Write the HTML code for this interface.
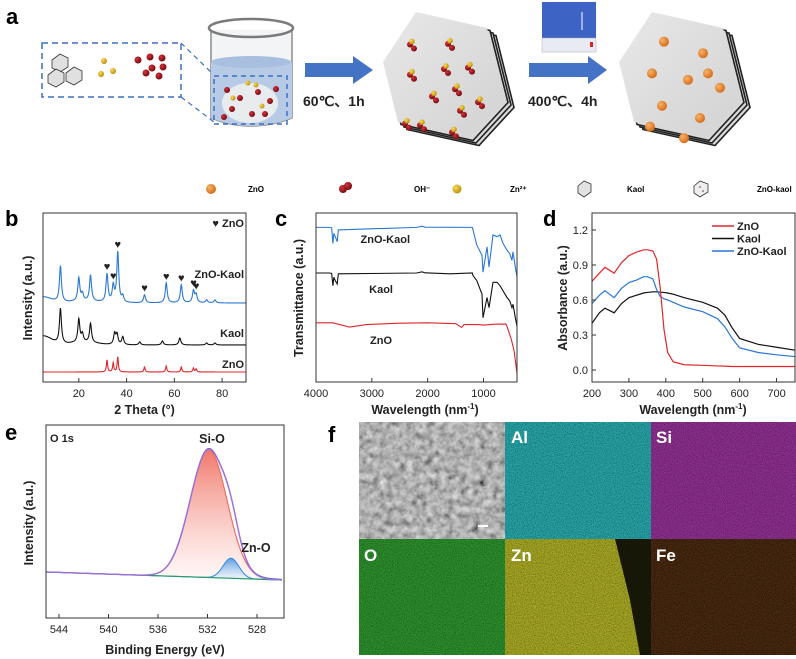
<!DOCTYPE html>
<html><head><meta charset="utf-8">
<style>
html,body{margin:0;padding:0;background:#fff;}
svg{display:block;font-family:"Liberation Sans",sans-serif;}
.pl{font-weight:bold;font-size:22px;}
.tk{font-size:11px;fill:#222;}
.tt{font-size:12.5px;font-weight:bold;fill:#222;}
.sl{font-size:11px;font-weight:bold;fill:#222;}
</style></head>
<body>
<svg id="fig" width="796" height="659" viewBox="0 0 796 659">
<defs>
<radialGradient id="gOr" cx="0.35" cy="0.35" r="0.7"><stop offset="0" stop-color="#f7b26a"/><stop offset="1" stop-color="#d46a16"/></radialGradient>
<radialGradient id="gRd" cx="0.35" cy="0.35" r="0.7"><stop offset="0" stop-color="#d8303a"/><stop offset="1" stop-color="#6e0a0e"/></radialGradient>
<radialGradient id="gYl" cx="0.35" cy="0.35" r="0.7"><stop offset="0" stop-color="#f8dd55"/><stop offset="1" stop-color="#b88a0a"/></radialGradient>
<linearGradient id="gSi" x1="0" y1="0" x2="0" y2="1"><stop offset="0" stop-color="#f0786a"/><stop offset="1" stop-color="#fff4f2" stop-opacity="0.6"/></linearGradient>
<linearGradient id="gZn" x1="0" y1="0" x2="0" y2="1"><stop offset="0" stop-color="#5a9ee0"/><stop offset="1" stop-color="#eef6ff" stop-opacity="0.6"/></linearGradient>
<linearGradient id="gHex" x1="0" y1="0" x2="1" y2="1"><stop offset="0" stop-color="#e8e8e8"/><stop offset="1" stop-color="#d2d2d2"/></linearGradient>
<filter id="noise" x="0" y="0" width="100%" height="100%"><feTurbulence type="fractalNoise" baseFrequency="0.9" numOctaves="2" seed="3"/><feColorMatrix type="matrix" values="0 0 0 0 0  0 0 0 0 0  0 0 0 0 0  0 0 0 -1.6 1.0"/></filter>
<filter id="semf" x="0" y="0" width="100%" height="100%"><feTurbulence type="fractalNoise" baseFrequency="0.15" numOctaves="3" seed="7"/><feColorMatrix type="matrix" values="0.45 0.45 0.45 0 -0.25  0.45 0.45 0.45 0 -0.25  0.45 0.45 0.45 0 -0.25  0 0 0 0 1"/></filter>
</defs>

<!-- Panel a -->
<g>
<text class="pl" x="6" y="24">a</text>
<rect x="42" y="43" width="139" height="54" fill="none" stroke="#3b6fc0" stroke-width="1.5" stroke-dasharray="6,4"/>
<line x1="181" y1="43" x2="214" y2="75" stroke="#3b6fc0" stroke-width="1.2" stroke-dasharray="5,4"/>
<line x1="181" y1="97" x2="214" y2="122" stroke="#3b6fc0" stroke-width="1.2" stroke-dasharray="5,4"/>
<g>
<polygon points="52,60 60,54 68,58 68,67 60,72 52,68" fill="#e0e0e0" stroke="#333" stroke-width="0.8"/>
<polygon points="48,75 56,69 64,73 64,82 56,87 48,83" fill="#e0e0e0" stroke="#333" stroke-width="0.8"/>
<polygon points="66,73 74,67 82,71 82,80 74,85 66,81" fill="#e0e0e0" stroke="#333" stroke-width="0.8"/>
</g>
<g>
<circle cx="104" cy="61" r="3" fill="url(#gYl)"/><circle cx="101" cy="74" r="3" fill="url(#gYl)"/><circle cx="113" cy="71" r="3" fill="url(#gYl)"/>
</g>
<g>
<circle cx="138" cy="60" r="3.5" fill="url(#gRd)"/><circle cx="150" cy="57" r="3.5" fill="url(#gRd)"/><circle cx="162" cy="58" r="3.5" fill="url(#gRd)"/><circle cx="152" cy="68" r="3.5" fill="url(#gRd)"/><circle cx="163" cy="67" r="3.5" fill="url(#gRd)"/><circle cx="146" cy="73" r="3.5" fill="url(#gRd)"/><circle cx="159" cy="76" r="3.5" fill="url(#gRd)"/>
</g>
<g>
<path d="M211,30 L211,118 Q251,134 292,118 L292,30" fill="#f2f4f6" stroke="#8c8c8c" stroke-width="1.5"/>
<path d="M211,62 Q251,55 292,62 L292,118 Q251,134 211,118 Z" fill="#b8cbe6"/>
<ellipse cx="251" cy="62" rx="40" ry="6" fill="#a9bfe0"/>
<ellipse cx="251" cy="28" rx="42" ry="9" fill="none" stroke="#7a7a7a" stroke-width="2.5"/>
<rect x="214" y="76" width="73" height="48" fill="none" stroke="#3b6fc0" stroke-width="1.5" stroke-dasharray="5,4"/>
<ellipse cx="250" cy="103" rx="28" ry="20" fill="#e9ecef"/>
<circle cx="227" cy="90" r="3" fill="url(#gRd)"/><circle cx="240" cy="98" r="3" fill="url(#gRd)"/><circle cx="232" cy="109" r="3" fill="url(#gRd)"/><circle cx="258" cy="92" r="3" fill="url(#gRd)"/><circle cx="270" cy="101" r="3" fill="url(#gRd)"/><circle cx="276" cy="89" r="3" fill="url(#gRd)"/><circle cx="252" cy="114" r="3" fill="url(#gRd)"/><circle cx="265" cy="114" r="3" fill="url(#gRd)"/><circle cx="224" cy="117" r="3" fill="url(#gRd)"/>
<circle cx="248" cy="83" r="2.5" fill="url(#gYl)"/><circle cx="256" cy="85" r="2.5" fill="url(#gYl)"/><circle cx="262" cy="106" r="2.5" fill="url(#gYl)"/><circle cx="233" cy="98" r="2.5" fill="url(#gYl)"/>
</g>
<polygon points="305,63 353,63 353,56 373,70 353,84 353,77 305,77" fill="#4472c4"/>
<text x="303" y="106" font-size="14" font-weight="bold" fill="#222">60℃、1h</text>
<polygon points="529,63 588,63 588,56 607,70 588,84 588,77 529,77" fill="#4472c4"/>
<text x="528" y="106" font-size="14" font-weight="bold" fill="#222">400℃、4h</text>
<g>
<rect x="542" y="2" width="54" height="36" fill="#3d63c4"/>
<rect x="542" y="38" width="54" height="14" fill="#e8ecf2" stroke="#aab" stroke-width="0.5"/>
<line x1="582" y1="12" x2="582" y2="30" stroke="#fff" stroke-width="1"/>
<rect x="590" y="42" width="3" height="5" fill="#d22"/>
</g>
<g id="hex1"></g>
<g id="hex2"></g>
<g>
<circle cx="211" cy="189" r="5" fill="url(#gOr)"/><text x="248" y="192" font-size="8" font-weight="bold">ZnO</text>
<circle cx="343" cy="189" r="4" fill="url(#gRd)"/><circle cx="348" cy="186" r="4" fill="url(#gRd)"/><text x="414" y="192" font-size="8" font-weight="bold">OH⁻</text>
<circle cx="457" cy="189" r="4.5" fill="url(#gYl)"/><text x="510" y="192" font-size="8" font-weight="bold">Zn²⁺</text>
<polygon points="578,186 584,181 591,184 591,192 584,197 578,193" fill="#e2e2e2" stroke="#333" stroke-width="0.8"/><text x="627" y="192" font-size="8" font-weight="bold">Kaol</text>
<polygon points="694,186 700,181 708,184 708,192 700,197 694,193" fill="#eee" stroke="#333" stroke-width="0.8"/><circle cx="700" cy="187" r="0.8" fill="#633"/><circle cx="703" cy="191" r="0.8" fill="#633"/><text x="757" y="192" font-size="8" font-weight="bold">ZnO-kaol</text>
</g>
</g>

<text class="pl" x="5" y="226">b</text>
<text class="pl" x="275" y="226">c</text>
<text class="pl" x="543" y="226">d</text>
<text class="pl" x="5" y="440">e</text>
<text class="pl" x="328" y="442">f</text>

<g id="pb"></g>
<g id="pc"></g>
<g id="pd"></g>
<g id="pe"></g>

<g>
<g>
<rect x="359" y="422" width="146" height="117" fill="#777"/>
<rect x="359" y="422" width="146" height="117" filter="url(#semf)"/>
<rect x="478" y="525" width="10" height="2" fill="#fff"/>
</g>
<g><rect x="505" y="422" width="146" height="117" fill="#27a5a8"/><rect x="505" y="422" width="146" height="117" filter="url(#noise)" opacity="0.5"/><text x="511" y="443" font-size="17" font-weight="bold" fill="#fff">Al</text></g>
<g><rect x="651" y="422" width="145" height="117" fill="#8e2f90"/><rect x="651" y="422" width="145" height="117" filter="url(#noise)" opacity="0.5"/><text x="656" y="443" font-size="17" font-weight="bold" fill="#fff">Si</text></g>
<g><rect x="359" y="539" width="146" height="116" fill="#2c8f2c"/><rect x="359" y="539" width="146" height="116" filter="url(#noise)" opacity="0.5"/><text x="364" y="561" font-size="17" font-weight="bold" fill="#fff">O</text></g>
<g><rect x="505" y="539" width="146" height="116" fill="#a7a724"/><polygon points="615,539 651,539 651,655 640,655 630,600" fill="#1a1a08"/><rect x="505" y="539" width="146" height="116" filter="url(#noise)" opacity="0.5"/><text x="511" y="561" font-size="17" font-weight="bold" fill="#fff">Zn</text></g>
<g><rect x="651" y="539" width="145" height="116" fill="#4a2a10"/><rect x="651" y="539" width="145" height="116" filter="url(#noise)" opacity="0.75"/><text x="656" y="561" font-size="17" font-weight="bold" fill="#fff">Fe</text></g>
</g>
</svg>

<script>
// ---------- data: panel b (XRD) ----------
const xrdTicks = [20, 40, 60, 80];
const znoPeakPos = [31.8, 34.4, 36.3, 47.5, 56.6, 62.9, 68.0, 69.1];
const znoPeakH   = [12, 9, 15, 5, 6, 5, 4, 3];
const kaolPeakPos = [12.3, 20.0, 21.5, 24.9, 35.0, 36.0, 38.4, 45.5, 55.0, 62.3, 73.5, 77.0];
const kaolPeakH   = [35, 23, 8, 19, 11, 10, 8, 3, 4, 7, 2, 2];
const zkPeakPos = [12.3, 20.0, 21.5, 24.9, 31.8, 34.4, 36.3, 38.4, 47.5, 56.6, 62.9, 68.0, 69.1, 73.5, 77.0];
const zkPeakH   = [36, 23, 7, 26, 28, 16, 50, 6, 8, 20, 18, 12, 8, 3, 3];
const heartPos = [31.8, 34.4, 36.3, 47.5, 56.6, 62.9, 68.0, 69.1];
// ---------- data: panel c (FTIR) ----------
const cTicks = [4000, 3000, 2000, 1000];
const zkWn = [4000,3760,3720,3697,3680,3655,3620,3600,2200,2100,2050,1200,1188,1120,1027,1009,937,901,830,758,704,651,579,530,490,472,430,400];
const zkT  = [91.5,91.5,91.3,82,88,86,83,90,91.5,92.2,91.6,91.5,90,81,75,65,80,68,87,86,87,82,78,76,72,77,68,62];
const kaWn = [4000,3760,3720,3697,3680,3655,3620,3600,2200,2100,2050,1600,1200,1188,1120,1027,1009,937,901,830,758,704,651,579,530,490,472,430,400];
const kaT  = [64.5,64.5,64.3,57,62,60,58,64,64.5,65.2,64.6,64,64.5,63,60,52,38,50,44,59,59,57,54,50,48,44,46,38,33];
const znWn = [4000,3700,3400,3100,2500,2000,1500,1390,1350,1100,1000,800,600,580,500,450,400];
const znT  = [35,35,32.5,34,34.8,35,34.5,32.3,34,34,33.7,34.2,34.3,33,25,18,5];
// ---------- data: panel d (UV-vis) ----------
const dTicksX = [200, 300, 400, 500, 600, 700];
const dTicksY = [0.0, 0.3, 0.6, 0.9, 1.2];
const uvWl = [200,220,235,260,280,300,320,340,350,365,375,385,395,405,420,450,500,540,560,580,600,650,700,750];
const uvZnO  = [0.76,0.83,0.88,0.83,0.92,0.98,1.01,1.03,1.03,1.02,0.95,0.70,0.35,0.15,0.07,0.045,0.04,0.035,0.033,0.03,0.03,0.03,0.03,0.03];
const uvKaol = [0.40,0.49,0.53,0.49,0.57,0.62,0.64,0.66,0.665,0.67,0.67,0.667,0.665,0.66,0.65,0.62,0.58,0.53,0.47,0.36,0.27,0.22,0.195,0.17];
const uvZK   = [0.57,0.64,0.68,0.62,0.70,0.75,0.77,0.80,0.80,0.78,0.69,0.63,0.61,0.60,0.58,0.54,0.50,0.44,0.37,0.27,0.19,0.15,0.13,0.115];
// ---------- data: panel e (XPS) ----------
const eTicks = [544, 540, 536, 532, 528];
const xpsCenter = [531.9, 530.1];
const xpsHeight = [128, 20];
const xpsFwhm   = [3.5, 1.5];
const xpsBgLeft = 3;
const xpsBgRight = -5;

const NS = 'http://www.w3.org/2000/svg';
function add(parent, tag, attrs, name) {
  const el = document.createElementNS(NS, tag);
  for (const k in attrs) el.setAttribute(k, attrs[k]);
  
  
  parent.appendChild(el);
  return el;
}
function lin(d0, d1, r0, r1) { return v => r0 + (v - d0) * (r1 - r0) / (d1 - d0); }
function pathOf(xs, ys, fx, fy) { return xs.map((v, i) => (i ? 'L' : 'M') + fx(v).toFixed(2) + ',' + fy(ys[i]).toFixed(2)).join(''); }
function frame(g, x0, y0, x1, y1, nm) { add(g, 'rect', {x:x0, y:y0, width:x1-x0, height:y1-y0, fill:'none', stroke:'#333', 'stroke-width':1}, nm); }
function txt(g, x, y, s, cls, nm, anchor, extra) {
  const t = add(g, 'text', Object.assign({x:x, y:y, class:cls, 'text-anchor':anchor||'start'}, extra||{}), nm);
  t.textContent = s; return t;
}

// ---------- panel a hexagons ----------
function hexSheet(id, dx) {
  const g = document.getElementById(id);
  const pts = [[383,62],[416,12],[487,28],[505,100],[470,138],[398,122]].map(p => [p[0]+dx, p[1]]);
  for (let k = 3; k >= 1; k--) {
    add(g, 'polygon', {points: pts.map(p => (p[0]+k*3)+','+(p[1]+k*2.5)).join(' '), fill:'#d8d8d8', stroke:'#222', 'stroke-width':1.6}, 'sheet-layer');
  }
  add(g, 'polygon', {points: pts.map(p => p.join(',')).join(' '), fill:'url(#gHex)'}, 'sheet-top');
  return g;
}
const h1 = hexSheet('hex1', 0);
[[410,48],[448,47],[410,90],[444,82],[468,80],[432,120],[455,110],[478,128],[420,160],[452,170],[405,158],[460,140]].forEach(p => {
  const x = p[0], y = p[1]*0.72 + 10;
  add(h1, 'circle', {cx:x, cy:y, r:3, fill:'url(#gRd)'}, 'oh-ion');
  add(h1, 'circle', {cx:x+4, cy:y+4, r:3, fill:'url(#gRd)'}, 'oh-ion');
  add(h1, 'circle', {cx:x+2, cy:y-3, r:2.8, fill:'url(#gYl)'}, 'zn-ion');
});
const h2 = hexSheet('hex2', 236);
[[664,44],[703,60],[652,88],[688,97],[708,88],[720,108],[662,133],[700,150],[650,162],[684,178]].forEach(p => {
  add(h2, 'circle', {cx:p[0], cy:p[1]*0.72+10, r:5, fill:'url(#gOr)'}, 'zno-particle');
});

// ---------- panel b ----------
(function(){
  const g = document.getElementById('pb');
  const X0=43, X1=246, Y0=213, Y1=382;
  const fx = lin(5, 90, X0, X1);
  const grid = []; for (let t = 5; t <= 90.001; t += 0.1) grid.push(t);
  function spec(pos, h, w, base, hump) {
    return grid.map(t => {
      let s = 0;
      pos.forEach((p, i) => { s += h[i] / (1 + Math.pow((t - p) / w, 2)); });
      if (hump) s += hump * Math.exp(-Math.pow((t - 5)/5, 2)) + hump*0.3*Math.exp(-Math.pow((t-22)/8,2));
      return base - s;
    });
  }
  const series = [
    {pos: zkPeakPos, h: zkPeakH, base: 303, hump: 6, w: 0.5, c: '#2a77d4', n: 'xrd-line-zno-kaol'},
    {pos: kaolPeakPos, h: kaolPeakH, base: 345, hump: 9, w: 0.5, c: '#111', n: 'xrd-line-kaol'},
    {pos: znoPeakPos, h: znoPeakH, base: 372, hump: 0, w: 0.3, c: '#e0262a', n: 'xrd-line-zno'}
  ];
  series.forEach(s => {
    const ys = spec(s.pos, s.h, s.w, s.base, s.hump);
    add(g, 'path', {d: pathOf(grid, ys, fx, y => y), fill:'none', stroke:s.c, 'stroke-width':1.1}, s.n);
  });
  const zkY = spec(zkPeakPos, zkPeakH, 0.5, 303, 6);
  heartPos.forEach(p => {
    const i = Math.round((p - 5) / 0.1);
    txt(g, fx(p), zkY[i] - 3, '♥', 'tk', 'zno-peak-marker', 'middle', {'font-size':7});
  });
  frame(g, X0, Y0, X1, Y1, 'plot-frame-b');
  xrdTicks.forEach(t => {
    add(g, 'line', {x1:fx(t), x2:fx(t), y1:Y1, y2:Y1-4, stroke:'#333'}, 'x-tick-b');
    txt(g, fx(t), Y1+15, String(t), 'tk', 'x-tick-label-b', 'middle');
  });
  txt(g, (X0+X1)/2, 414, '2 Theta (°)', 'tt', 'x-axis-title-b', 'middle');
  txt(g, 32, 298, 'Intensity (a.u.)', 'tt', 'y-axis-title-b', 'middle', {transform:'rotate(-90 32 298)'});
  txt(g, 244, 227, '♥ ZnO', 'sl', 'legend-zno-marker', 'end');
  txt(g, 244, 278, 'ZnO-Kaol', 'sl', 'label-zno-kaol-b', 'end');
  txt(g, 244, 337, 'Kaol', 'sl', 'label-kaol-b', 'end');
  txt(g, 244, 368, 'ZnO', 'sl', 'label-zno-b', 'end');
})();

// ---------- panel c ----------
(function(){
  const g = document.getElementById('pc');
  const X0=316, X1=517, Y0=213, Y1=382;
  const fx = lin(4000, 400, X0, X1), fy = lin(0, 100, Y1, Y0);
  add(g, 'path', {d: pathOf(zkWn, zkT, fx, fy), fill:'none', stroke:'#2a77d4', 'stroke-width':1.1}, 'ftir-line-zno-kaol');
  add(g, 'path', {d: pathOf(kaWn, kaT, fx, fy), fill:'none', stroke:'#111', 'stroke-width':1.1}, 'ftir-line-kaol');
  add(g, 'path', {d: pathOf(znWn, znT, fx, fy), fill:'none', stroke:'#e0262a', 'stroke-width':1.1}, 'ftir-line-zno');
  frame(g, X0, Y0, X1, Y1, 'plot-frame-c');
  cTicks.forEach(t => {
    add(g, 'line', {x1:fx(t), x2:fx(t), y1:Y1, y2:Y1-4, stroke:'#333'}, 'x-tick-c');
    txt(g, fx(t), Y1+15, String(t), 'tk', 'x-tick-label-c', 'middle');
  });
  const tl = txt(g, 425, 414, 'Wavelength (nm', 'tt', 'x-axis-title-c', 'middle');
  tl.innerHTML = 'Wavelength (nm<tspan dy="-5" font-size="8">-1</tspan><tspan dy="5">)</tspan>';
  txt(g, 303, 298, 'Transmittance (a.u.)', 'tt', 'y-axis-title-c', 'middle', {transform:'rotate(-90 303 298)'});
  txt(g, 410, 243, 'ZnO-Kaol', 'sl', 'label-zno-kaol-c', 'end');
  txt(g, 393, 293, 'Kaol', 'sl', 'label-kaol-c', 'end');
  txt(g, 392, 344, 'ZnO', 'sl', 'label-zno-c', 'end');
})();

// ---------- panel d ----------
(function(){
  const g = document.getElementById('pd');
  const X0=592, X1=795, Y0=213, Y1=382;
  const fx = lin(200, 750, X0, X1), fy = lin(0, 1.2, 370, 230);
  add(g, 'path', {d: pathOf(uvWl, uvKaol, fx, fy), fill:'none', stroke:'#111', 'stroke-width':1.2}, 'uv-line-kaol');
  add(g, 'path', {d: pathOf(uvWl, uvZK, fx, fy), fill:'none', stroke:'#2a77d4', 'stroke-width':1.2}, 'uv-line-zno-kaol');
  add(g, 'path', {d: pathOf(uvWl, uvZnO, fx, fy), fill:'none', stroke:'#e0262a', 'stroke-width':1.2}, 'uv-line-zno');
  frame(g, X0, Y0, X1, Y1, 'plot-frame-d');
  dTicksX.forEach(t => {
    add(g, 'line', {x1:fx(t), x2:fx(t), y1:Y1, y2:Y1-4, stroke:'#333'}, 'x-tick-d');
    txt(g, fx(t), Y1+15, String(t), 'tk', 'x-tick-label-d', 'middle');
  });
  dTicksY.forEach(t => {
    add(g, 'line', {x1:X0, x2:X0+4, y1:fy(t), y2:fy(t), stroke:'#333'}, 'y-tick-d');
    txt(g, X0-4, fy(t)+4, t.toFixed(1), 'tk', 'y-tick-label-d', 'end');
  });
  const tl = txt(g, 693, 414, '', 'tt', 'x-axis-title-d', 'middle');
  tl.innerHTML = 'Wavelength (nm<tspan dy="-5" font-size="8">-1</tspan><tspan dy="5">)</tspan>';
  txt(g, 567, 298, 'Absorbance (a.u.)', 'tt', 'y-axis-title-d', 'middle', {transform:'rotate(-90 567 298)'});
  [['ZnO','#e0262a'],['Kaol','#111'],['ZnO-Kaol','#2a77d4']].forEach((e, i) => {
    const y = 226 + i*12.5;
    add(g, 'line', {x1:712, x2:734, y1:y, y2:y, stroke:e[1], 'stroke-width':1.5}, 'legend-line-' + e[0].toLowerCase());
    txt(g, 737, y+4, e[0], 'sl', 'legend-label-' + e[0].toLowerCase());
  });
})();

// ---------- panel e ----------
(function(){
  const g = document.getElementById('pe');
  const X0=46, X1=284, Y0=425, Y1=618;
  const fx = lin(544, 528, 59, 257), fy = lin(0, 100, 575, 475);
  const grid = []; for (let e = 545; e >= 526; e -= 0.05) grid.push(e);
  const bg = grid.map(e => xpsBgLeft + (xpsBgRight - xpsBgLeft) * (545 - e) / 19);
  function gauss(i, e) { const s = xpsFwhm[i] / 2.355; return xpsHeight[i] * Math.exp(-0.5 * Math.pow((e - xpsCenter[i]) / s, 2)); }
  const p0 = grid.map((e, k) => bg[k] + gauss(0, e));
  const p1 = grid.map((e, k) => bg[k] + gauss(1, e));
  const env = grid.map((e, k) => bg[k] + gauss(0, e) + gauss(1, e));
  const area = (ys) => pathOf(grid, ys, fx, fy) + 'L' + fx(grid[grid.length-1]) + ',' + fy(bg[bg.length-1]) + pathOf(grid.slice().reverse(), bg.slice().reverse(), fx, fy).replace('M', 'L') + 'Z';
  add(g, 'path', {d: area(p0), fill:'url(#gSi)', stroke:'none'}, 'si-o-fill');
  add(g, 'path', {d: area(p1), fill:'url(#gZn)', stroke:'none'}, 'zn-o-fill');
  add(g, 'path', {d: pathOf(grid, p0, fx, fy), fill:'none', stroke:'#f06a5a', 'stroke-width':1.1}, 'si-o-component');
  add(g, 'path', {d: pathOf(grid, p1, fx, fy), fill:'none', stroke:'#3a8ee0', 'stroke-width':1.1}, 'zn-o-component');
  add(g, 'path', {d: pathOf(grid, bg, fx, fy), fill:'none', stroke:'#2a9a6a', 'stroke-width':1.2}, 'xps-background');
  add(g, 'path', {d: pathOf(grid, env.map((v,k)=>v+(545-grid[k]>10?0.7:0)), fx, fy), fill:'none', stroke:'#3a5ad0', 'stroke-width':1}, 'xps-raw-data');
  add(g, 'path', {d: pathOf(grid, env, fx, fy), fill:'none', stroke:'#a070d8', 'stroke-width':1.4}, 'xps-envelope');
  frame(g, X0, Y0, X1, Y1, 'plot-frame-e');
  eTicks.forEach(t => {
    add(g, 'line', {x1:fx(t), x2:fx(t), y1:Y1, y2:Y1-4, stroke:'#333'}, 'x-tick-e');
    txt(g, fx(t), Y1+15, String(t), 'tk', 'x-tick-label-e', 'middle');
  });
  txt(g, 165, 654, 'Binding Energy (eV)', 'tt', 'x-axis-title-e', 'middle');
  txt(g, 33, 523, 'Intensity (a.u.)', 'tt', 'y-axis-title-e', 'middle', {transform:'rotate(-90 33 523)'});
  txt(g, 50, 442, 'O 1s', 'sl', 'label-o1s');
  txt(g, 212, 443, 'Si-O', 'tt', 'label-si-o', 'middle');
  txt(g, 256, 552, 'Zn-O', 'tt', 'label-zn-o', 'middle');
})();
</script>
</body></html>
